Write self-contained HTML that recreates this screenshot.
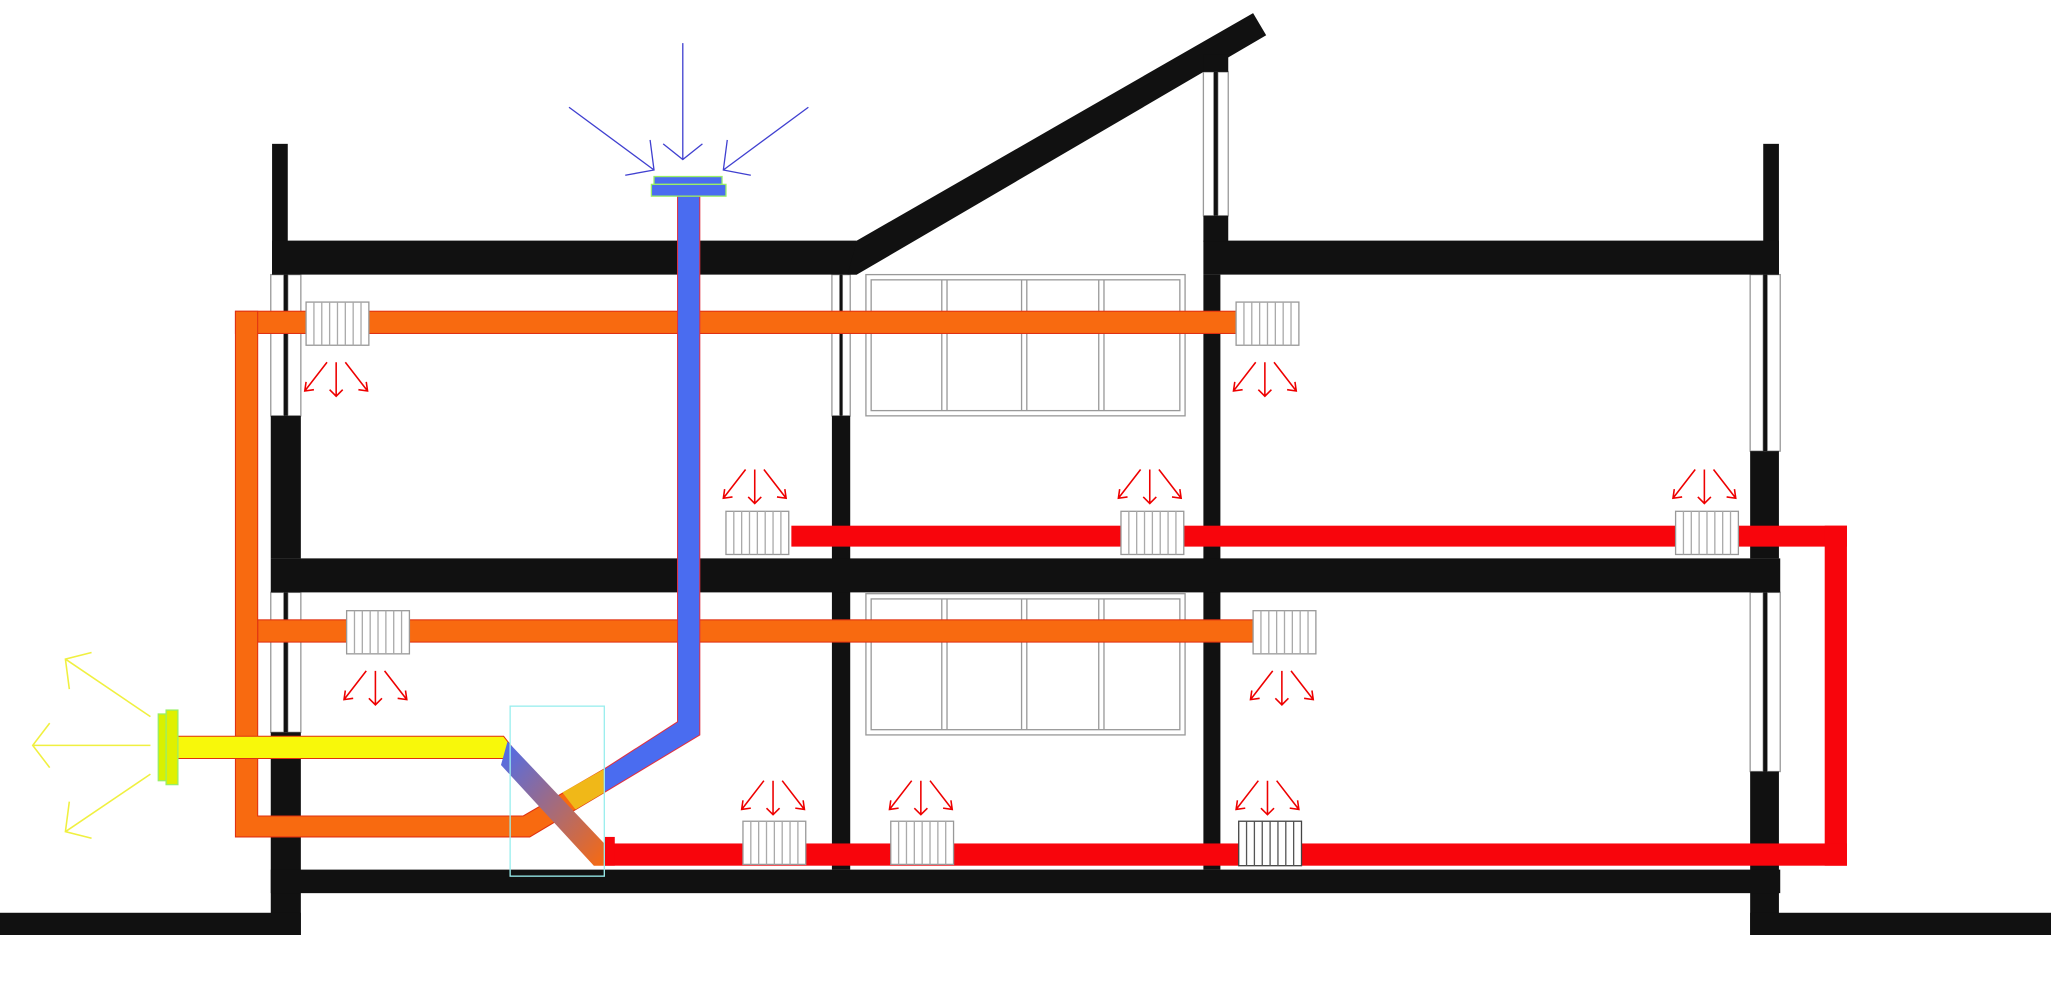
<!DOCTYPE html>
<html><head><meta charset="utf-8"><style>html,body{margin:0;padding:0;background:#fff}svg{display:block}</style></head>
<body>
<svg width="2051" height="1003" viewBox="0 0 1568 767" preserveAspectRatio="none" xmlns="http://www.w3.org/2000/svg">
<defs>
<g id="rad"><rect x="0" y="0" width="48" height="33" fill="#fff" stroke="#999" stroke-width="1"/>
<path d="M6 0V33M12 0V33M18 0V33M24 0V33M30 0V33M36 0V33M42 0V33" stroke="#aaa" stroke-width="1"/></g>
<g id="ad" stroke="#e00" stroke-width="1.2" fill="none"><path d="M0 0V26M-5 21L0 26L5 21"/><path d="M-7 0L-24 22M-23 15L-24 22L-17 21"/><path d="M7 0L24 22M23 15L24 22L17 21"/></g>
<g id="win"><rect x="0" y="0" width="244" height="108" fill="#fff" stroke="#999"/><rect x="4" y="4" width="236" height="100" fill="none" stroke="#999"/>
<path d="M58 4V104M62 4V104M119 4V104M123 4V104M178 4V104M182 4V104" stroke="#999"/></g>
<linearGradient id="gx" x1="0" y1="0" x2="1" y2="1"><stop offset="0" stop-color="#4a6cf0"/><stop offset="1" stop-color="#f86a10"/></linearGradient>
</defs>
<rect width="1568" height="767" fill="#fff"/>
<g fill="#fff" stroke="#999">
<rect x="207" y="210" width="10" height="108"/><rect x="220" y="210" width="10" height="108"/>
<rect x="207" y="453" width="10" height="107"/><rect x="220" y="453" width="10" height="107"/>
<rect x="636" y="210" width="6" height="108"/><rect x="644" y="210" width="6" height="108"/>
<rect x="1338" y="210" width="10" height="135"/><rect x="1351" y="210" width="10" height="135"/>
<rect x="1338" y="453" width="10" height="137"/><rect x="1351" y="453" width="10" height="137"/>
<rect x="920" y="55" width="8" height="110"/><rect x="931" y="55" width="8" height="110"/>
</g>
<g fill="#111">
<rect x="217" y="210" width="3" height="108"/><rect x="217" y="453" width="3" height="107"/>
<rect x="1348" y="210" width="3" height="135"/><rect x="1348" y="453" width="3" height="137"/>
<rect x="928" y="55" width="3" height="110"/><rect x="642" y="210" width="2" height="108"/>
<rect x="208" y="110" width="12" height="100"/><rect x="1348" y="110" width="12" height="100"/>
<rect x="208" y="184" width="447" height="26"/>
<polygon points="648,210 655,184 958,10 968,27 655,210"/>
<rect x="920" y="184" width="440" height="26"/>
<rect x="920" y="42" width="19" height="13"/><rect x="920" y="165" width="19" height="20"/>
<rect x="207" y="318" width="23" height="109"/><rect x="207" y="560" width="23" height="155"/>
<rect x="636" y="318" width="14" height="347"/><rect x="920" y="210" width="13" height="455"/>
<rect x="1338" y="345" width="22" height="82"/><rect x="1338" y="590" width="22" height="125"/>
<rect x="207" y="427" width="1154" height="26"/>
<rect x="207" y="665" width="1154" height="18"/>
<rect x="0" y="698" width="230" height="17"/><rect x="1338" y="698" width="230" height="17"/>
</g>
<use href="#win" x="662" y="210"/><use href="#win" x="662" y="454"/>
<g fill="#f86a10" stroke="#e03010" stroke-width="0.8">
<rect x="180" y="238" width="765" height="17"/>
<rect x="197" y="474" width="763" height="17"/>
<polygon points="180,238 197,238 197,624 400,624 462,588 462,606 405,640 180,640"/>
</g>
<polygon points="430,606 462,588 462,606 440,619" fill="#f0b818"/>
<g fill="#f8050c">
<rect x="605" y="402" width="807" height="16"/>
<rect x="1395" y="402" width="17" height="260"/>
<rect x="462" y="645" width="950" height="17"/>
<rect x="462" y="640" width="8" height="22"/>
</g>
<polygon points="518,150 535,150 535,562 462,606 462,588 518,552" fill="#4a6cf0" stroke="#e03040" stroke-width="0.8"/>
<polygon points="135,563 385,563 392,572 388,580 135,580" fill="#f8f80a" stroke="#e03010" stroke-width="0.8"/>
<polygon points="388,567 462,645 462,662 454,662 383,585" fill="url(#gx)"/>
<rect x="390" y="540" width="72" height="130" fill="none" stroke="#9ee" stroke-width="1"/>
<rect x="500" y="135" width="52" height="6" fill="#4a6cf0" stroke="#9e6" stroke-width="1"/>
<rect x="498" y="141" width="57" height="9" fill="#4a6cf0" stroke="#9e6" stroke-width="1"/>
<g stroke="#4040d0" stroke-width="1" fill="none">
<path d="M522 33V122M507 110L522 122L537 110"/>
<path d="M435 82L500 130M497 107L500 130L478 134"/>
<path d="M618 82L553 130M556 107L553 130L574 134"/>
</g>
<rect x="121" y="546" width="7" height="51" fill="#d8f000" stroke="#9e6"/>
<rect x="127" y="543" width="9" height="57" fill="#e0f000" stroke="#9e6"/>
<g stroke="#f0f040" stroke-width="1.2" fill="none">
<path d="M115 570H25M38 553L25 570L38 587"/>
<path d="M115 548L50 504M53 527L50 504L70 499"/>
<path d="M115 592L50 636M53 613L50 636L70 641"/>
</g>
<use href="#rad" x="234" y="231"/><use href="#rad" x="945" y="231"/>
<use href="#rad" x="555" y="391"/><use href="#rad" x="857" y="391"/><use href="#rad" x="1281" y="391"/>
<use href="#rad" x="265" y="467"/><use href="#rad" x="958" y="467"/>
<use href="#rad" x="568" y="628"/><use href="#rad" x="681" y="628"/>
<g><rect x="947" y="628" width="48" height="34" fill="#fff" stroke="#444"/><path d="M953 628V662M959 628V662M965 628V662M971 628V662M977 628V662M983 628V662M989 628V662" stroke="#555"/></g>
<use href="#ad" x="257" y="277"/><use href="#ad" x="967" y="277"/>
<use href="#ad" x="577" y="359"/><use href="#ad" x="879" y="359"/><use href="#ad" x="1303" y="359"/>
<use href="#ad" x="287" y="513"/><use href="#ad" x="980" y="513"/>
<use href="#ad" x="591" y="597"/><use href="#ad" x="704" y="597"/><use href="#ad" x="969" y="597"/>
</svg>
</body></html>
